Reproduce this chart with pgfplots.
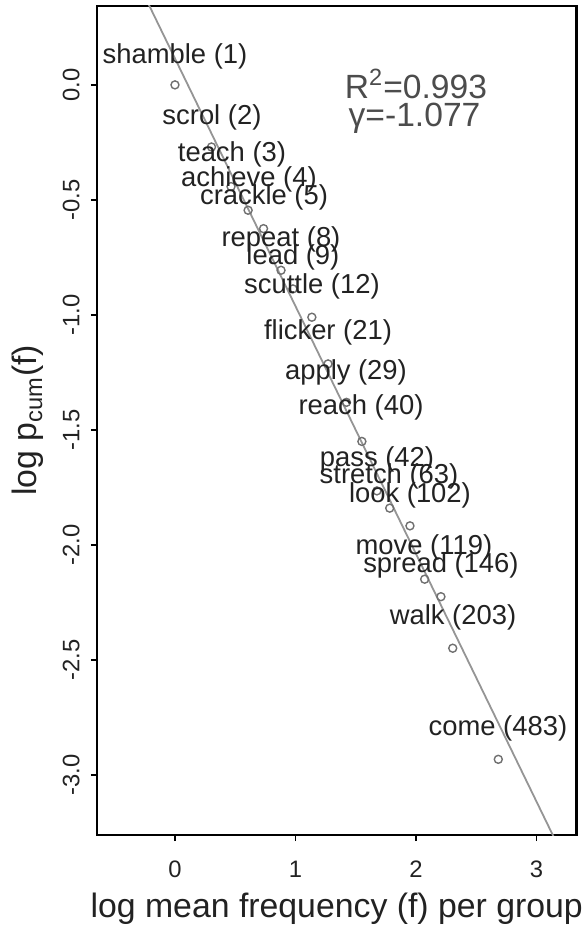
\documentclass[border=0pt]{standalone}
\usepackage{fontspec}
\setmainfont{Liberation Sans}
\usepackage{pgfplots}
\usepackage{pgfplotstable}
\pgfplotsset{compat=1.18}

% verb groups: point (x,y) and label centre (lx,ly)
\pgfplotstableread[col sep=comma]{
x,y,lx,ly,label
0.000,0.000,0.000,0.125,shamble (1)
0.303,-0.270,0.307,-0.143,scrol (2)
0.465,-0.442,0.473,-0.304,teach (3)
0.607,-0.545,0.614,-0.413,achieve (4)
0.735,-0.625,0.739,-0.491,crackle (5)
0.880,-0.806,0.880,-0.670,repeat (8)
0.979,-0.887,0.979,-0.752,lead (9)
1.136,-1.010,1.137,-0.878,scuttle (12)
1.270,-1.213,1.270,-1.078,flicker (21)
1.423,-1.380,1.419,-1.248,apply (29)
1.551,-1.550,1.544,-1.404,reach (40)
1.676,-1.765,1.676,-1.630,pass (42)
1.782,-1.840,1.776,-1.704,stretch (63)
1.950,-1.917,1.950,-1.783,look (102)
2.072,-2.149,2.066,-2.009,move (119)
2.207,-2.225,2.207,-2.087,spread (146)
2.305,-2.449,2.307,-2.317,walk (203)
2.683,-2.932,2.680,-2.796,come (483)
}\verbs

\definecolor{fitgray}{HTML}{959595}
\definecolor{ptgray}{HTML}{707070}
\definecolor{txt}{HTML}{222222}

\begin{document}
\begin{tikzpicture}
\useasboundingbox (-48.5pt,-48.5pt) rectangle (244pt,417.5pt);
\begin{axis}[
    scale only axis,
    width=239.75pt, height=414.5pt,
    xmin=-0.647, xmax=3.332,
    ymin=-3.261, ymax=0.343,
    xtick={0,1,2,3},
    ytick={-3,-2.5,...,0},
    tick align=outside,
    xtick pos=bottom, ytick pos=left,
    major tick length=3pt,
    axis line style={line width=1.2pt},
    tick style={line width=0.8pt, black},
    /pgf/number format/assume math mode=true,
    ticklabel style={font=\fontsize{11.9}{13}\selectfont, text=txt},
    yticklabel style={/pgf/number format/fixed, /pgf/number format/fixed zerofill,
        /pgf/number format/precision=1, xshift=-5.75pt, rotate=90, anchor=base},
    xticklabel style={yshift=-6.5pt},
    xlabel={log mean frequency (f) per group},
    ylabel={log p\textsubscript{cum}(f)},
    every axis x label/.style={at={(rel axis cs:0.5,0)}, anchor=base, yshift=-41pt,
        font=\fontsize{16.9}{19}\selectfont, text=txt},
    every axis y label/.style={at={(rel axis cs:0,0.5)}, xshift=-30pt, rotate=90, anchor=base,
        font=\fontsize{16.9}{19}\selectfont, text=txt},
]
\addplot[fitgray, line width=0.9pt, no marks] coordinates {(-0.3,0.438) (3.2,-3.331)};
\addplot[only marks, mark=o, mark size=2pt, ptgray, mark options={line width=0.7pt}]
    table[x=x, y=y] {\verbs};
\addplot[only marks, mark=none, nodes near coords, point meta=explicit symbolic,
    nodes near coords style={anchor=center, inner sep=0pt, text=txt,
        font=\fontsize{13.7}{15}\selectfont}]
    table[x=lx, y=ly, meta=label] {\verbs};
\node[anchor=base, inner sep=0pt, text=black!70, font=\fontsize{16.8}{18}\selectfont]
    at (axis cs:2.0,-0.059) {R\textsuperscript{2}=0.993};
\node[anchor=base, inner sep=0pt, text=black!70, font=\fontsize{16.8}{18}\selectfont]
    at (axis cs:1.988,-0.180) {γ=-1.077};
\end{axis}
\end{tikzpicture}
\end{document}
